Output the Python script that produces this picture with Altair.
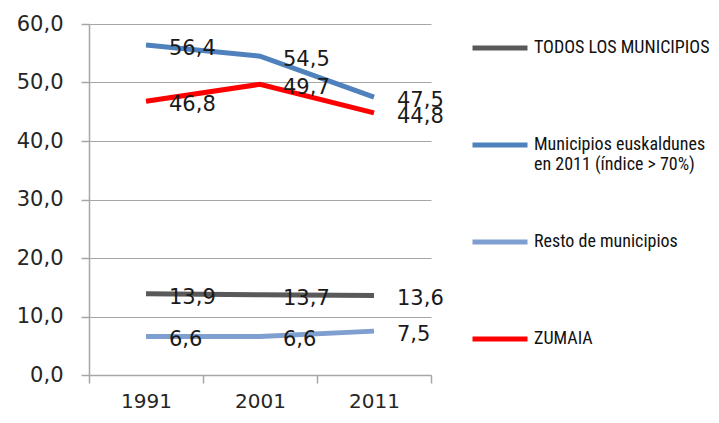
import altair as alt
import pandas as pd

years = ["1991", "2001", "2011"]
series = ["TODOS LOS MUNICIPIOS", "Municipios euskaldunes en 2011 (índice > 70%)",
          "Resto de municipios", "ZUMAIA"]
todos = [13.9, 13.7, 13.6]
euskaldunes = [56.4, 54.5, 47.5]
resto = [6.6, 6.6, 7.5]
zumaia = [46.8, 49.7, 44.8]
colors = ["#595959", "#4F81BD", "#7F9FD0", "#FF0000"]

rows = []
for name, vals in zip(series, [todos, euskaldunes, resto, zumaia]):
    for y, v in zip(years, vals):
        rows.append({"year": y, "value": v, "serie": name})
df = pd.DataFrame(rows)

grid = "#A6A6A6"
x = alt.X("year:N", title=None, sort=years,
          scale=alt.Scale(type="band", paddingInner=0, paddingOuter=0),
          axis=alt.Axis(labelAngle=0, tickBand="extent", domainColor=grid, tickColor=grid,
                        tickSize=8, labelPadding=8, labelFont="DejaVu Sans", labelFontSize=20,
                        labelColor="#262626", grid=False))
y = alt.Y("value:Q", title=None,
          scale=alt.Scale(domain=[0, 60], nice=False, zero=True),
          axis=alt.Axis(values=[0, 10, 20, 30, 40, 50, 60],
                        labelExpr="replace(format(datum.value, '.1f'), '.', ',')",
                        domainColor=grid, tickColor=grid, gridColor=grid, tickSize=8,
                        labelPadding=18, labelFont="DejaVu Sans", labelFontSize=21,
                        labelColor="#262626"))

legend = alt.Legend(
    title=None, orient="none", legendX=381, legendY=-6,
    symbolType="stroke", symbolSize=3025, symbolStrokeWidth=5,
    labelFont="Liberation Sans Narrow, Roboto Condensed, Arial Narrow, Roboto, sans-serif",
    labelFontSize=18, labelColor="#111111", labelLimit=300, labelOffset=4,
    rowPadding=38, labelBaseline="middle",
    labelExpr="datum.label == 'Municipios euskaldunes en 2011 (índice > 70%)' ? ['Municipios euskaldunes', 'en 2011 (índice > 70%)'] : [datum.label, ' ']",
)
color = alt.Color("serie:N", sort=series,
                  scale=alt.Scale(domain=series, range=colors), legend=legend)

lines = alt.Chart(df).mark_line(strokeWidth=5).encode(x=x, y=y, color=color)
labels = alt.Chart(df).mark_text(align="left", baseline="middle", dx=23, dy=4,
                                 font="DejaVu Sans", fontSize=21, color="#1a1a1a").encode(
    x=alt.X("year:N", sort=years), y="value:Q",
    text=alt.Text("label:N"))
labels = labels.transform_calculate(label="replace(format(datum.value, '.1f'), '.', ',')")

chart = alt.layer(lines, labels).properties(
    width=342, height=351,
    autosize="none",
    padding={"left": 81, "top": 16, "right": 278, "bottom": 40},
).configure_view(stroke=None).configure_axis(gridWidth=1, domainWidth=1.5, tickWidth=1.5)

chart.save("out.html", embed_options={"renderer": "svg", "actions": False})
